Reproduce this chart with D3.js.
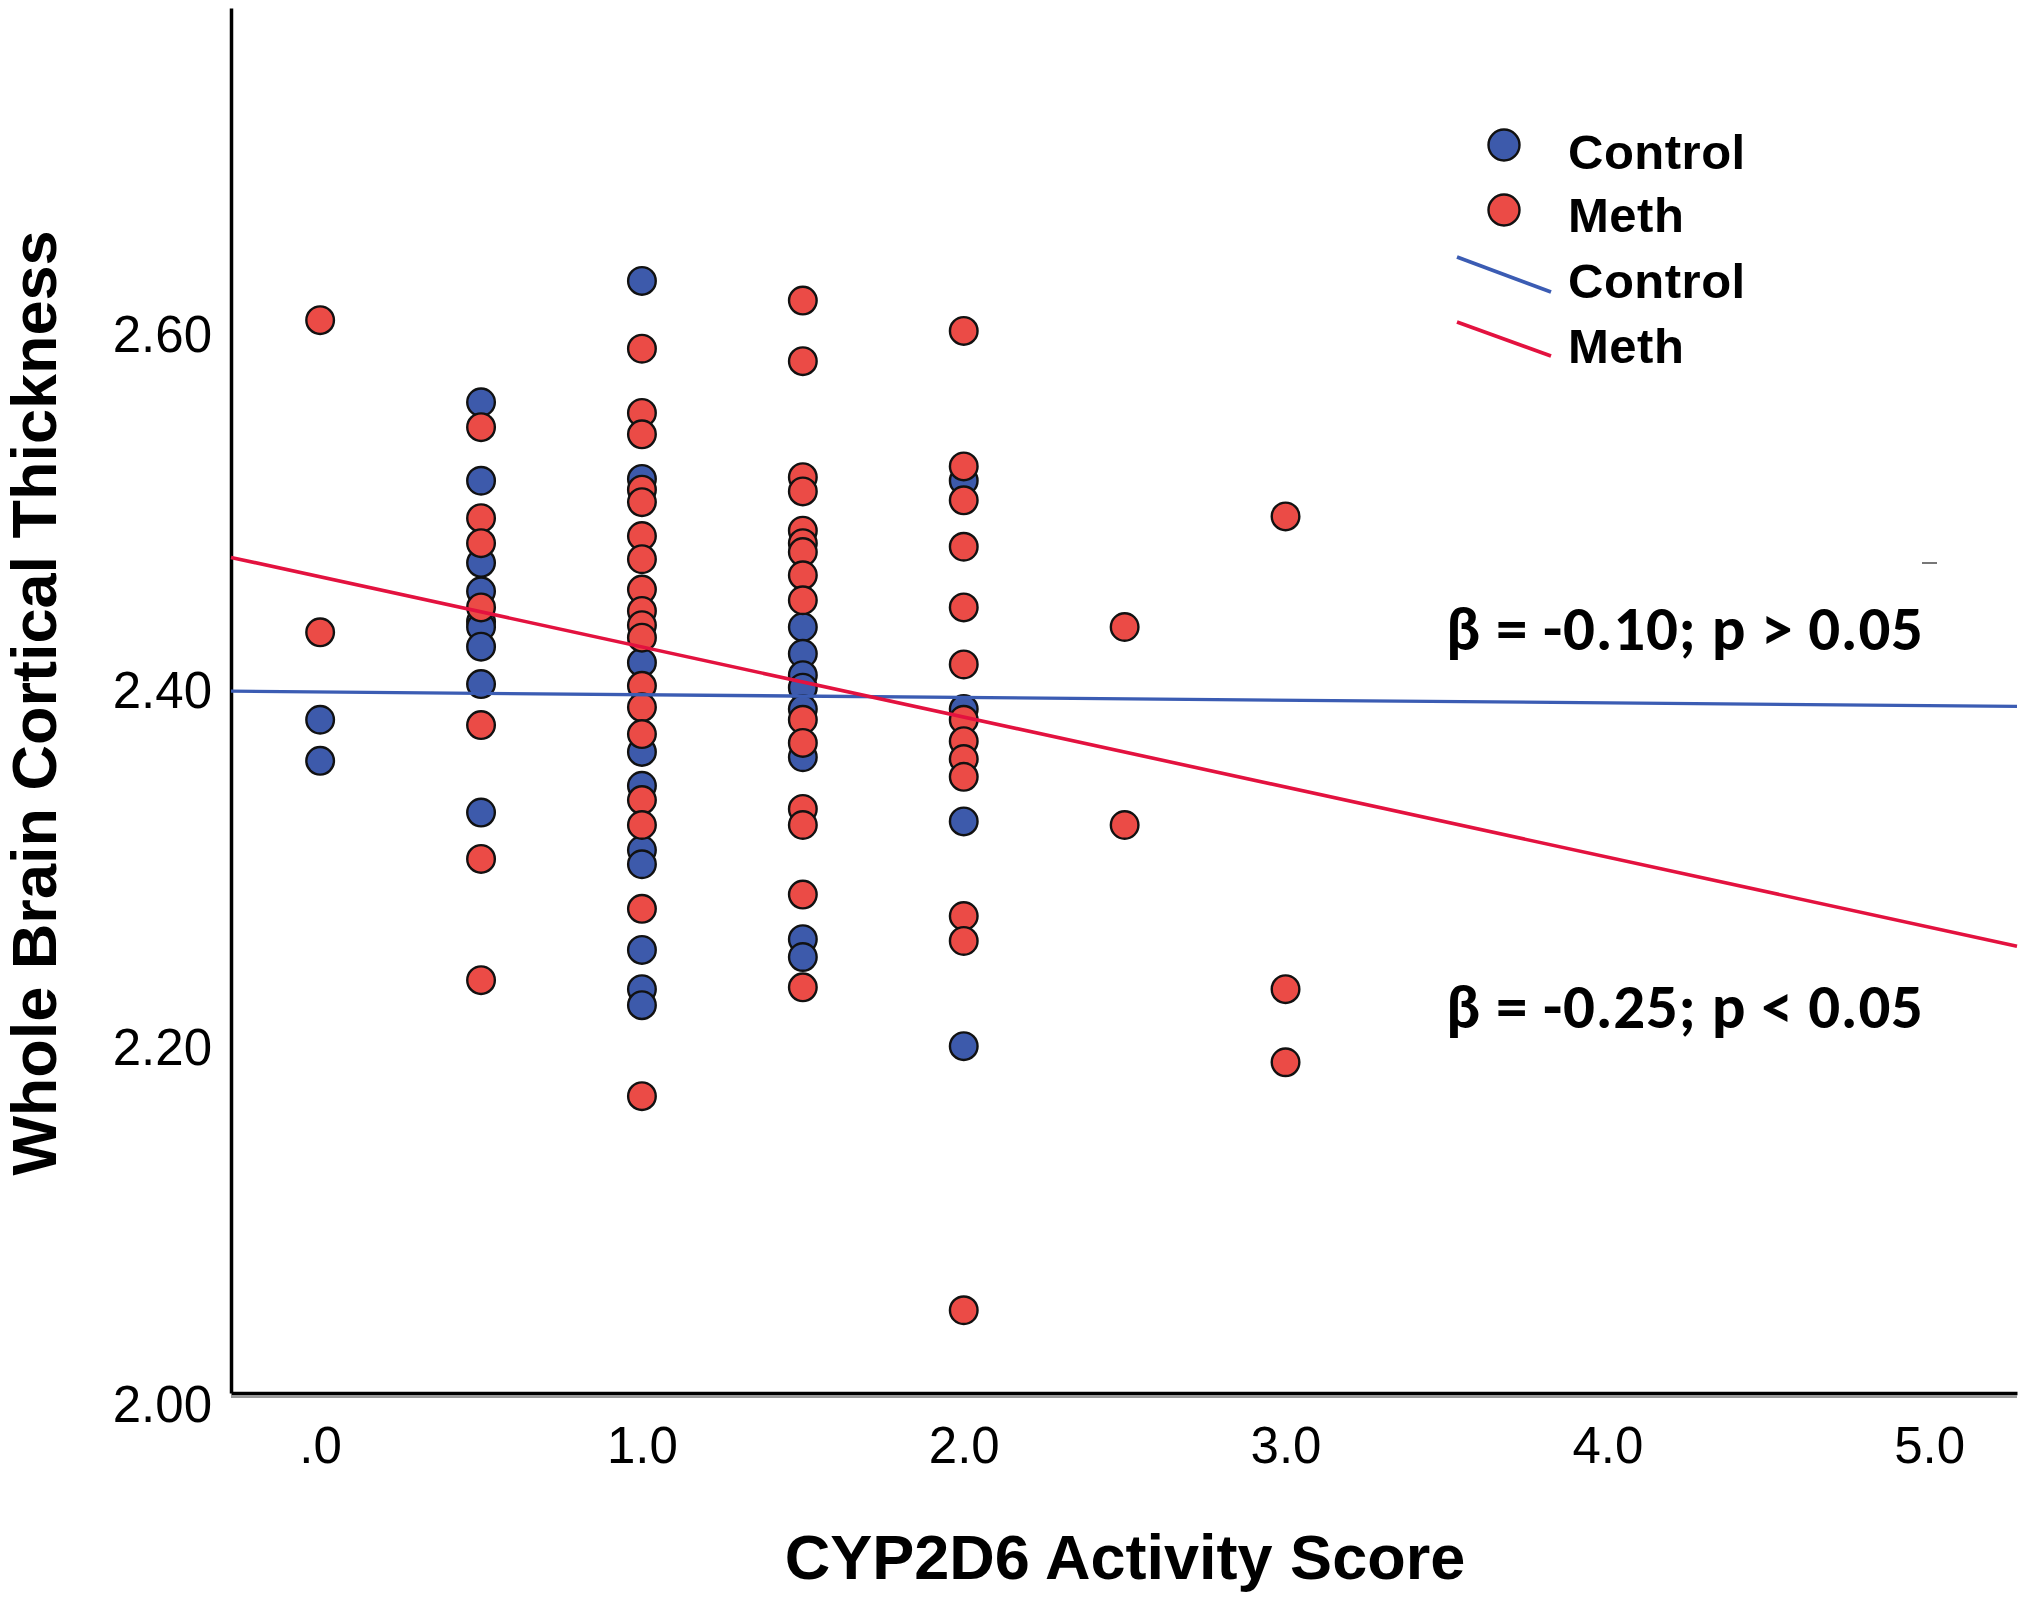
<!DOCTYPE html>
<html>
<head>
<meta charset="utf-8">
<script src="https://cdn.jsdelivr.net/npm/d3@7"></script>
<style>
  html, body { margin: 0; padding: 0; background: #fff; }
  svg { display: block; }
</style>
</head>
<body>
<svg id="chart" width="2025" height="1597"></svg>
<script>
// ---------- data ----------
const activityScores = [0, 0.5, 1.0, 1.5, 2.0, 2.5, 3.0];

const controlValues = [
  [2.383, 2.360],
  [2.561, 2.517, 2.471, 2.455, 2.438, 2.435, 2.424, 2.403, 2.331],
  [2.629, 2.518, 2.415, 2.365, 2.346, 2.310, 2.302, 2.254, 2.232, 2.223],
  [2.435, 2.420, 2.408, 2.401, 2.389, 2.362, 2.260, 2.250],
  [2.517, 2.389, 2.326, 2.200],
  [],
  []
];

const methValues = [
  [2.607, 2.432],
  [2.547, 2.496, 2.482, 2.446, 2.380, 2.305, 2.237],
  [2.591, 2.555, 2.543, 2.512, 2.505, 2.486, 2.473, 2.456, 2.444, 2.436, 2.429, 2.402, 2.390, 2.375, 2.338, 2.324, 2.277, 2.172],
  [2.618, 2.584, 2.519, 2.511, 2.489, 2.482, 2.477, 2.464, 2.450, 2.383, 2.370, 2.333, 2.324, 2.285, 2.233],
  [2.601, 2.525, 2.506, 2.480, 2.446, 2.414, 2.383, 2.371, 2.361, 2.351, 2.273, 2.259, 2.052],
  [2.435, 2.324],
  [2.497, 2.232, 2.191]
];

// fitted regression lines (endpoints at the axis limits)
const controlFit = [[-0.277, 2.399], [5.273, 2.3905]];
const methFit = [[-0.277, 2.474], [5.273, 2.256]];

const xTickValues = [0, 1, 2, 3, 4, 5];
const xTickLabels = [".0", "1.0", "2.0", "3.0", "4.0", "5.0"];
const yTickValues = [2.0, 2.2, 2.4, 2.6];
const yTickLabels = ["2.00", "2.20", "2.40", "2.60"];

const legendLabels = ["Control", "Meth", "Control", "Meth"];
const annotations = ["\u03B2 = -0.10; p > 0.05", "\u03B2 = -0.25; p < 0.05"];

// ---------- drawing ----------
const svg = d3.select("#chart");
const BLUE = "#3d5aab", RED = "#eb4b46";
const BLUE_LINE = "#3b5cb3", RED_LINE = "#e3123f";
const FONT = "'Liberation Sans', Arial, sans-serif";

const x = d3.scaleLinear().domain([-0.277, 5.273]).range([231, 2017]);
const y = d3.scaleLinear().domain([2.0056, 2.782]).range([1393, 8]);

// x axis
const gx = svg.append("g").attr("transform", `translate(0,${y.range()[0]})`)
  .call(d3.axisBottom(x).tickValues(xTickValues)
    .tickFormat((d, i) => xTickLabels[i]).tickSize(0).tickSizeOuter(0));
gx.select(".domain").attr("stroke", "#000").attr("stroke-width", 3.5);
gx.selectAll("text").attr("y", 70).attr("dy", 0)
  .attr("font-family", FONT).attr("font-size", 51).attr("fill", "#000");
// light shadow under the x axis
svg.append("line").attr("x1", x.range()[0]).attr("x2", x.range()[1])
  .attr("y1", y.range()[0] + 3.5).attr("y2", y.range()[0] + 3.5)
  .attr("stroke", "#9a9a9a").attr("stroke-width", 3);

// y axis
const gy = svg.append("g").attr("transform", `translate(${x.range()[0]},0)`)
  .call(d3.axisLeft(y).tickValues(yTickValues)
    .tickFormat((d, i) => yTickLabels[i]).tickSize(0).tickSizeOuter(0).tickPadding(19));
gy.select(".domain").attr("stroke", "#000").attr("stroke-width", 3.5);
gy.selectAll("text").attr("dy", "0.36em")
  .attr("font-family", FONT).attr("font-size", 51).attr("fill", "#000");

// axis titles
svg.append("text")
  .attr("transform", `translate(56,703) rotate(-90)`)
  .attr("text-anchor", "middle")
  .attr("font-family", FONT).attr("font-weight", "bold").attr("font-size", 63)
  .text("Whole Brain Cortical Thickness");
svg.append("text")
  .attr("x", 1125).attr("y", 1579)
  .attr("text-anchor", "middle")
  .attr("font-family", FONT).attr("font-weight", "bold").attr("font-size", 63)
  .text("CYP2D6 Activity Score");

// points
function flatten(vals) {
  const out = [];
  vals.forEach((arr, i) => arr.forEach(v => out.push([activityScores[i], v])));
  return out;
}
const R = 13.8;
svg.append("g").selectAll("circle").data(flatten(controlValues)).join("circle")
  .attr("cx", d => x(d[0])).attr("cy", d => y(d[1])).attr("r", R)
  .attr("fill", BLUE).attr("stroke", "#111").attr("stroke-width", 2.4);
svg.append("g").selectAll("circle").data(flatten(methValues)).join("circle")
  .attr("cx", d => x(d[0])).attr("cy", d => y(d[1])).attr("r", R)
  .attr("fill", RED).attr("stroke", "#111").attr("stroke-width", 2.4);

// fit lines
const line = d3.line().x(d => x(d[0])).y(d => y(d[1]));
svg.append("path").attr("d", line(controlFit)).attr("fill", "none")
  .attr("stroke", BLUE_LINE).attr("stroke-width", 3.3);
svg.append("path").attr("d", line(methFit)).attr("fill", "none")
  .attr("stroke", RED_LINE).attr("stroke-width", 3.6);

// legend
const lg = svg.append("g");
lg.append("circle").attr("cx", 1504).attr("cy", 145).attr("r", 15.5)
  .attr("fill", BLUE).attr("stroke", "#111").attr("stroke-width", 2.4);
lg.append("circle").attr("cx", 1504).attr("cy", 210).attr("r", 15.5)
  .attr("fill", RED).attr("stroke", "#111").attr("stroke-width", 2.4);
lg.append("line").attr("x1", 1457).attr("y1", 257).attr("x2", 1551).attr("y2", 292)
  .attr("stroke", BLUE_LINE).attr("stroke-width", 3.8);
lg.append("line").attr("x1", 1457).attr("y1", 322).attr("x2", 1551).attr("y2", 356)
  .attr("stroke", RED_LINE).attr("stroke-width", 3.8);
const legendBaselines = [169, 232, 298, 363];
lg.selectAll("text.leg").data(legendLabels).join("text").attr("class", "leg")
  .attr("x", 1568).attr("y", (d, i) => legendBaselines[i])
  .attr("font-family", FONT).attr("font-weight", "bold").attr("font-size", 49)
  .attr("letter-spacing", 0.5)
  .attr("fill", "#000").text(d => d);

// annotations
const annBaselines = [650, 1028];
svg.selectAll("text.ann").data(annotations).join("text").attr("class", "ann")
  .attr("x", 1446).attr("y", (d, i) => annBaselines[i])
  .attr("font-family", "Carlito, Calibri, Lato, sans-serif").attr("font-weight", "bold")
  .attr("font-size", 63).attr("textLength", 477).attr("lengthAdjust", "spacing")
  .attr("fill", "#000").text(d => d);

// small grey mark near the upper annotation
svg.append("line").attr("x1", 1922).attr("x2", 1937).attr("y1", 563).attr("y2", 563)
  .attr("stroke", "#777").attr("stroke-width", 2);
</script>
</body>
</html>
